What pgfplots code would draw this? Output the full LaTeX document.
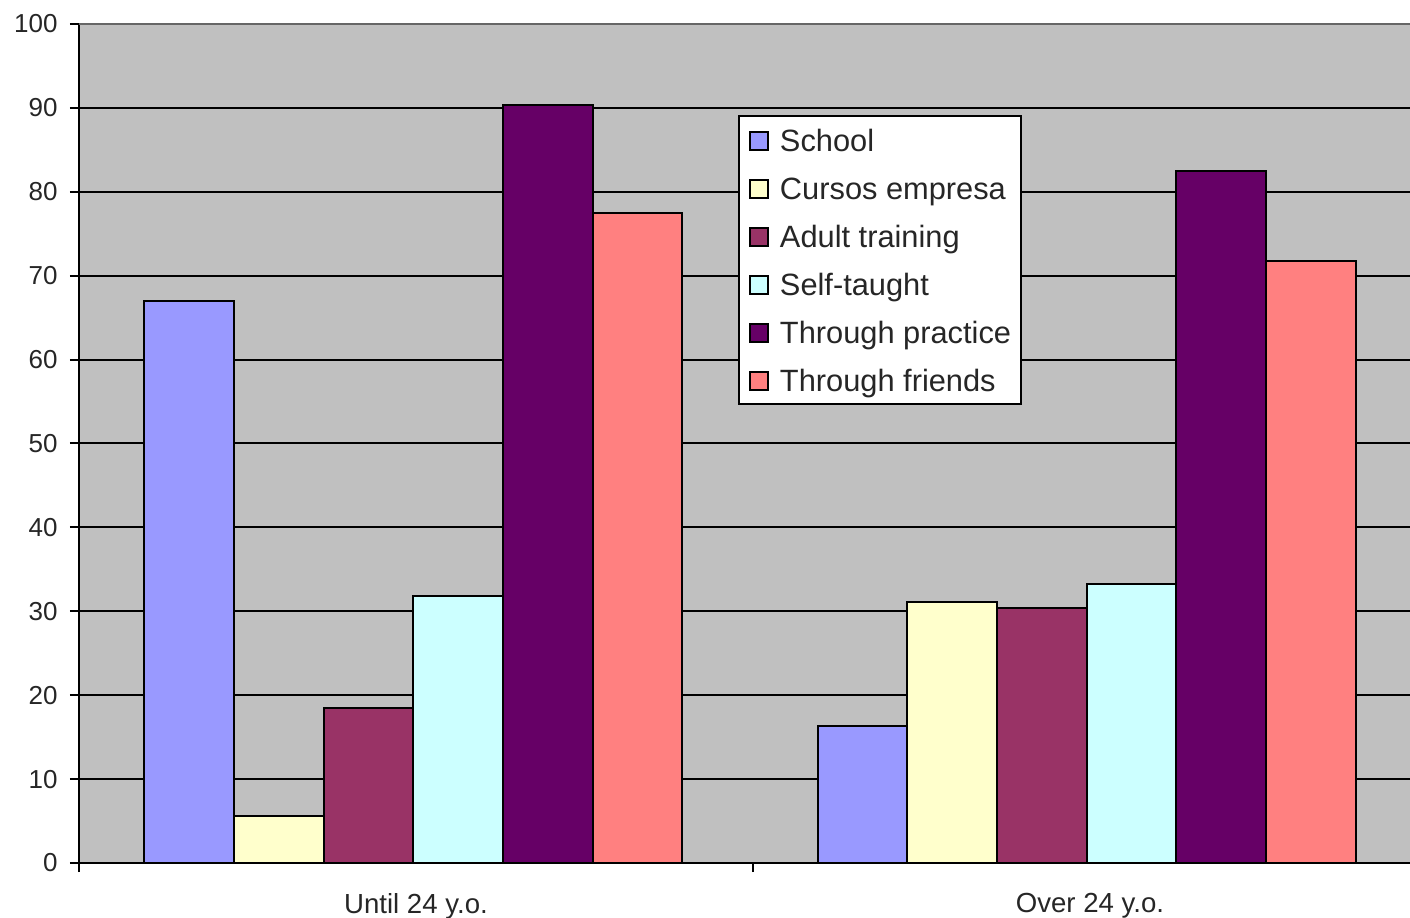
\documentclass[border=0pt]{standalone}
\usepackage{pgfplots}
\pgfplotsset{compat=1.18}
\usepackage{fontspec}
\setmainfont{Liberation Sans}
\definecolor{cSchool}{HTML}{9999FF}
\definecolor{cCursos}{HTML}{FFFFCC}
\definecolor{cAdult}{HTML}{993366}
\definecolor{cSelf}{HTML}{CCFFFF}
\definecolor{cPractice}{HTML}{660066}
\definecolor{cFriends}{HTML}{FF8080}
\definecolor{bggray}{HTML}{C0C0C0}
\begin{document}
\begin{tikzpicture}
\begin{axis}[name=ax, scale only axis, width=665.5pt, height=419.5pt,
  ybar=0pt, bar width=0.133,
  xmin=-0.5, xmax=1.4748, ymin=0, ymax=100,
  /pgf/number format/assume math mode=true,
  axis background/.style={fill=bggray},
  axis x line*=bottom, axis y line*=left,
  axis line style={black, line width=1pt},
  xtick={0,1}, xticklabels={Until 24 y.o., Over 24 y.o.},
  major x tick style={draw=none},
  minor xtick={-0.5,0.5,1.5},
  ytick={0,10,...,90}, extra y ticks={100},
  extra y tick style={grid style={gray!80!black, line width=1pt}},
  ymajorgrids, grid style={black, line width=1pt},
  tick align=outside, major tick length=4.5pt, minor tick length=4.5pt,
  tick style={black, line width=1pt},
  yticklabel style={font=\fontsize{13}{15}\selectfont, text=black!85, xshift=-2.7pt},
  xticklabel style={font=\fontsize{13.8}{16}\selectfont, text=black!85, yshift=-7pt},
  legend image code/.code={\draw[#1, line width=1pt] (0pt,-5pt) rectangle (9pt,4pt);},
  legend style={at={(0.4951,0.8915)}, anchor=north west, draw=black, line width=1pt, fill=white,
    font=\fontsize{15.4}{19}\selectfont, text=black!85, inner xsep=5pt, inner ysep=0pt, row sep=0pt,
    column sep=5.5pt,
    nodes={inner sep=0pt, text height=17.5pt, text depth=6.5pt}},
  legend cell align=left,
  every axis plot/.append style={draw=black, line width=1pt},
]
\addplot[fill=cSchool] coordinates {(-0.004,67.0) (0.995,16.3)};
\addplot[fill=cCursos] coordinates {(-0.004,5.6) (0.995,31.1)};
\addplot[fill=cAdult] coordinates {(-0.004,18.5) (0.995,30.4)};
\addplot[fill=cSelf] coordinates {(-0.004,31.8) (0.995,33.3)};
\addplot[fill=cPractice] coordinates {(-0.004,90.3) (0.995,82.5)};
\addplot[fill=cFriends] coordinates {(-0.004,77.5) (0.995,71.8)};
\legend{School, Cursos empresa, Adult training, Self-taught, Through practice, Through friends}
\end{axis}
\pgfresetboundingbox
\useasboundingbox ([shift={(-39.5pt,-27pt)}]ax.south west) rectangle ([shift={(0pt,12pt)}]ax.north east);
\end{tikzpicture}
\end{document}
